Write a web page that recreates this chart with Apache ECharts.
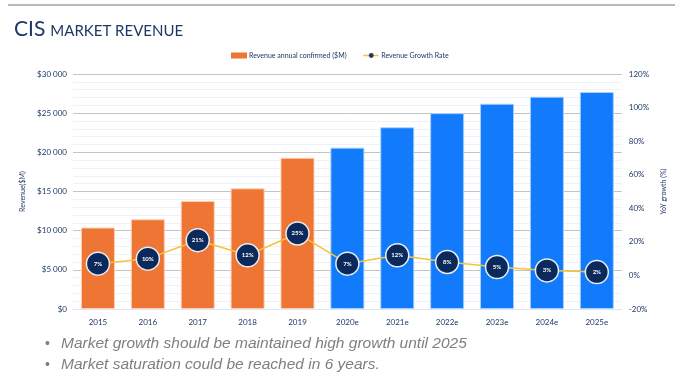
<!DOCTYPE html>
<html>
<head>
<meta charset="utf-8">
<script src="https://cdn.jsdelivr.net/npm/echarts@6/dist/echarts.min.js"></script>
<style>
  html, body { margin: 0; padding: 0; background: #fff; }
  #chart { width: 675px; height: 376px; }
</style>
</head>
<body>
<div id="chart"></div>
<script>
// Years; the "e" suffix marks estimates
const years = ['2015', '2016', '2017', '2018', '2019', '2020e', '2021e', '2022e', '2023e', '2024e', '2025e'];
// Confirmed annual revenue ($M)
const revenueConfirmed = [10400, 11450, 13800, 15400, 19300, null, null, null, null, null, null];
// Estimated annual revenue ($M)
const revenueEstimated = [null, null, null, null, null, 20600, 23200, 25000, 26200, 27100, 27700];
// Year-over-year growth (%)
const growthRate = [7, 10, 21, 12, 25, 7, 12, 8, 5, 3, 2];
// Notes below the chart
const notes = [
  'Market growth should be maintained high growth until 2025',
  'Market saturation could be reached in 6 years.'
];

const navy = '#1F3864';
const orange = '#EE7533';
const blue = '#117BFB';
const yellow = '#F7C236';
const font = 'Lato, "Open Sans", sans-serif';

function money(v) {
  return '$' + String(v).replace(/\B(?=(\d{3})+(?!\d))/g, ' ');
}

const chart = echarts.init(document.getElementById('chart'));
chart.setOption({
  animation: false,
  backgroundColor: '#fff',
  title: {
    text: '{a|CIS} {b|MARKET REVENUE}',
    left: 9,
    top: 14,
    textStyle: {
      fontWeight: 'normal',
      rich: {
        a: { fontFamily: font, fontSize: 21, fontWeight: 'normal', color: navy, verticalAlign: 'bottom' },
        b: { fontFamily: font, fontSize: 15, fontWeight: 'normal', color: navy, verticalAlign: 'bottom', padding: [0, 0, 1, 0] }
      }
    }
  },
  legend: {
    top: 47,
    left: 226,
    itemGap: 16,
    itemWidth: 16,
    itemHeight: 6,
    textStyle: { fontFamily: font, fontSize: 7, color: navy, padding: [0, 0, 0, -3] },
    data: [
      { name: 'Revenue annual confirmed ($M)', icon: 'rect', itemStyle: { color: orange, borderWidth: 0 } },
      { name: 'Revenue Growth Rate', itemStyle: { color: navy, borderWidth: 0 }, lineStyle: { type: 'dashed', color: yellow, width: 1.5 } }
    ]
  },
  grid: { left: 73, right: 40, top: 74, bottom: 67 },
  xAxis: {
    type: 'category',
    data: years,
    axisLine: { lineStyle: { color: '#DCE6F4' } },
    axisTick: { show: false },
    axisLabel: { fontFamily: font, fontSize: 8, color: navy, margin: 9 }
  },
  yAxis: [
    {
      type: 'value',
      min: 0, max: 30000, interval: 5000,
      name: 'Revenue($M)',
      nameLocation: 'middle',
      nameGap: 43,
      nameTextStyle: { fontFamily: font, fontSize: 7, color: navy },
      axisLabel: { fontFamily: font, fontSize: 8, color: navy, formatter: money, margin: 6 },
      axisLine: { show: false },
      axisTick: { show: false },
      splitLine: { lineStyle: { color: '#C4C4C4', width: 1 } },
      minorTick: { show: false, splitNumber: 5 },
      minorSplitLine: { show: true, lineStyle: { color: '#EDF2FA', width: 1 } }
    },
    {
      type: 'value',
      min: -20, max: 120, interval: 20,
      name: 'YoY growth (%)',
      nameLocation: 'middle',
      nameGap: 27,
      nameRotate: 90,
      nameTextStyle: { fontFamily: font, fontSize: 7, color: navy },
      axisLabel: { fontFamily: font, fontSize: 8, color: navy, formatter: '{value}%', margin: 7 },
      axisLine: { show: false },
      axisTick: { show: false },
      splitLine: { show: false }
    }
  ],
  series: [
    {
      name: 'Revenue annual confirmed ($M)',
      type: 'bar',
      stack: 'rev',
      barWidth: 34,
      data: revenueConfirmed,
      itemStyle: { color: orange, borderColor: 'rgba(255,210,180,0.9)', borderWidth: 1 }
    },
    {
      name: 'Revenue estimated ($M)',
      type: 'bar',
      stack: 'rev',
      barWidth: 34,
      data: revenueEstimated,
      itemStyle: { color: blue, borderColor: 'rgba(170,210,255,0.9)', borderWidth: 1 }
    },
    {
      name: 'Revenue Growth Rate',
      type: 'line',
      yAxisIndex: 1,
      data: growthRate,
      symbol: 'circle',
      symbolSize: 23,
      z: 5,
      lineStyle: { color: yellow, width: 1.5 },
      itemStyle: { color: '#0B2A5B', borderColor: '#E8EEF6', borderWidth: 1.5 },
      label: {
        show: true,
        position: 'inside',
        formatter: '{c}%',
        fontFamily: font,
        fontSize: 6,
        fontWeight: 'bold',
        color: '#fff'
      }
    }
  ],
  graphic: [
    { type: 'line', shape: { x1: 8, y1: 5, x2: 675, y2: 5 }, style: { stroke: '#A0A0A0', lineWidth: 1.5 } },
    { type: 'text', left: 45, top: 337, style: { text: '•', font: '14px "Liberation Sans"', fill: '#7F7F7F' } },
    { type: 'text', left: 61, top: 336, style: { text: notes[0], font: 'italic 15.5px "Liberation Sans"', fill: '#7F7F7F' } },
    { type: 'text', left: 45, top: 358, style: { text: '•', font: '14px "Liberation Sans"', fill: '#7F7F7F' } },
    { type: 'text', left: 61, top: 357, style: { text: notes[1], font: 'italic 15.5px "Liberation Sans"', fill: '#7F7F7F' } }
  ]
});
</script>
</body>
</html>
